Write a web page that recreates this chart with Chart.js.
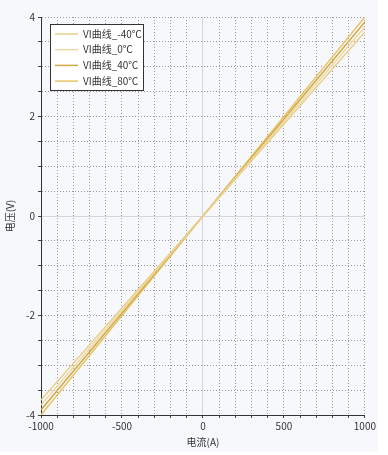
<!DOCTYPE html>
<html><head><meta charset="utf-8">
<script src="https://cdn.jsdelivr.net/npm/chart.js@4"></script>
<style>
html,body{margin:0;padding:0;background:#fff;}
#wrap{position:absolute;left:0;top:0;width:378px;height:452px;background:#f6f8fc;}
</style></head>
<body><div id="wrap"><canvas id="c" width="378" height="452"></canvas></div>
<script>
const currents = [-1000, -500, 0, 500, 1000];
const seriesNames = ['VI曲线_-40℃', 'VI曲线_0℃', 'VI曲线_40℃', 'VI曲线_80℃'];
const vMinus40 = [-3.7, -1.85, 0, 1.85, 3.7];
const v0 = [-3.8, -1.9, 0, 1.9, 3.8];
const v40 = [-3.9, -1.95, 0, 1.95, 3.9];
const v80 = [-4.0, -2.0, 0, 2.0, 4.0];
const xTicks = [-1000, -500, 0, 500, 1000];
const yTicks = [-4, -2, 0, 2, 4];
const colors = ['#e9cf88', '#eed9a2', '#d2a845', '#e8c468'];
const seriesValues = [vMinus40, v0, v40, v80];

const FONT = "'Noto Sans CJK SC','Noto Sans',sans-serif";

const legendBox = {
  id: 'legendBox',
  afterDraw(chart) {
    const ctx = chart.ctx;
    ctx.save();
    const x0 = 50.5, y0 = 24.5, w = 93, h = 66;
    ctx.fillStyle = '#ffffff';
    ctx.fillRect(x0, y0, w, h);
    ctx.strokeStyle = '#333';
    ctx.lineWidth = 1;
    ctx.strokeRect(x0, y0, w, h);
    ctx.font = '10px ' + FONT;
    ctx.textBaseline = 'middle';
    chart.data.datasets.forEach((ds, i) => {
      const y = 34 + i * 15.7;
      ctx.strokeStyle = ds.borderColor;
      ctx.lineWidth = 1.5;
      ctx.beginPath();
      ctx.moveTo(55, y); ctx.lineTo(78, y); ctx.stroke();
      ctx.fillStyle = '#333';
      ctx.fillText(ds.label, 83, y);
    });
    ctx.restore();
  }
};

const gridColor = c => c.tick && c.tick.value === 0 ? '#d3d6dc' : '#9a9a9a';
const gridDash = c => c.tick && c.tick.value === 0 ? [] : [1, 2];

new Chart(document.getElementById('c'), {
  type: 'line',
  data: {
    datasets: seriesNames.map((n, i) => ({
      label: n,
      data: currents.map((x, j) => ({x: x, y: seriesValues[i][j]})),
      borderColor: colors[i],
      borderWidth: 1.5,
      pointRadius: 0,
      fill: false,
      tension: 0
    }))
  },
  options: {
    responsive: false,
    animation: false,
    devicePixelRatio: 1,
    layout: {padding: {left: 4, right: 12, top: 17, bottom: 4}},
    plugins: {legend: {display: false}, tooltip: {enabled: false}},
    scales: {
      x: {
        type: 'linear', min: -1000, max: 1000,
        afterBuildTicks(s) { const t = []; for (let v = -1000; v <= 1000; v += 100) t.push({value: v}); s.ticks = t; },
        afterFit(s) { s.height = 452 - 415 - 4; },
        ticks: {
          autoSkip: false, maxRotation: 0, padding: 2,
          color: '#333', font: {size: 10, family: FONT},
          callback: v => xTicks.includes(v) ? String(v) : ''
        },
        grid: {color: gridColor, lineWidth: 1, tickLength: 3, tickColor: '#444', tickBorderDash: []},
        border: {display: true, color: '#333', width: 1, dash: gridDash},
        title: {display: true, text: '电流(A)', color: '#333', font: {size: 10, family: FONT}, padding: {top: 1, bottom: 0}}
      },
      y: {
        type: 'linear', min: -4, max: 4,
        afterBuildTicks(s) { const t = []; for (let k = -8; k <= 8; k++) t.push({value: k / 2}); s.ticks = t; },
        afterFit(s) { s.width = 41 - 4; },
        ticks: {
          autoSkip: false, padding: 3,
          color: '#333', font: {size: 10, family: FONT},
          callback: v => yTicks.includes(v) ? String(v) : ''
        },
        grid: {color: gridColor, lineWidth: 1, tickLength: 3, tickColor: '#444', tickBorderDash: []},
        border: {display: true, color: '#333', width: 1, dash: gridDash},
        title: {display: true, text: '电压(V)', color: '#333', font: {size: 10, family: FONT}, padding: {top: 0, bottom: 4}}
      }
    }
  },
  plugins: [legendBox]
});
</script>
</body></html>
